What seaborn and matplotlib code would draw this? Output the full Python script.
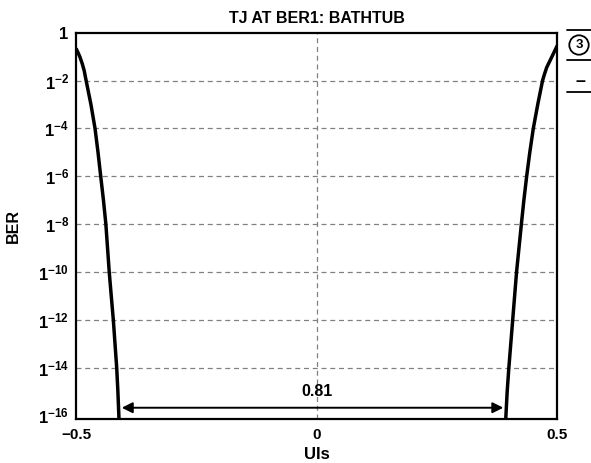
import matplotlib
matplotlib.use("Agg")
import matplotlib.pyplot as plt
import seaborn as sns
import pandas as pd
from matplotlib.lines import Line2D

# bathtub curve (UI position vs BER)
ui_left = [-0.500, -0.496, -0.4917, -0.487, -0.483, -0.479, -0.469, -0.4605, -0.4543, -0.4487,
           -0.443, -0.438, -0.4345, -0.431, -0.4268, -0.4225, -0.419, -0.4155, -0.413, -0.4107]
ber_left = [2.2e-1, 1.5e-1, 9.5e-2, 5.0e-2, 2.6e-2, 1e-2, 1e-3, 1e-4, 1e-5, 1e-6,
            1e-7, 1e-8, 1e-9, 1e-10, 1e-11, 1e-12, 1e-13, 1e-14, 1e-15, 6.9e-17]
ui_right = [0.500, 0.494, 0.488, 0.4775, 0.472, 0.469, 0.459, 0.4498, 0.4425, 0.436,
            0.4302, 0.425, 0.42, 0.415, 0.411, 0.407, 0.403, 0.399, 0.3955, 0.3925]
ber_right = [3.0e-1, 1.7e-1, 9.5e-2, 3.5e-2, 1.6e-2, 1e-2, 1e-3, 1e-4, 1e-5, 1e-6,
             1e-7, 1e-8, 1e-9, 1e-10, 1e-11, 1e-12, 1e-13, 1e-14, 1e-15, 6.9e-17]

ytick_vals = [1, 1e-2, 1e-4, 1e-6, 1e-8, 1e-10, 1e-12, 1e-14, 1e-16]
ytick_labels = [r"$\mathbf{1}$"] + [r"$\mathbf{1^{-%d}}$" % k for k in range(2, 17, 2)]
xtick_vals = [-0.5, 0, 0.5]
xtick_labels = ["\u22120.5", "0", "0.5"]
eye_left, eye_right, eye_ber = -0.405, 0.3875, 2.1e-16
eye_label = "0.81"

sns.set_style("white")
plt.rcParams["font.family"] = ["Liberation Sans", "DejaVu Sans"]
plt.rcParams["font.weight"] = "bold"
plt.rcParams["mathtext.fontset"] = "custom"
plt.rcParams["mathtext.rm"] = "Liberation Sans:bold"
plt.rcParams["mathtext.bf"] = "Liberation Sans:bold"
plt.rcParams["mathtext.it"] = "Liberation Sans:bold"
for key in ("text.color", "axes.labelcolor", "xtick.color", "ytick.color"):
    plt.rcParams[key] = "black"

df = pd.concat([
    pd.DataFrame({"ui": ui_left, "ber": ber_left, "side": "left"}),
    pd.DataFrame({"ui": ui_right, "ber": ber_right, "side": "right"}),
])

fig = plt.figure(figsize=(5.91, 4.63), dpi=100)
ax = fig.add_axes([0.1286, 0.0944, 0.8147, 0.835])

for side, sub in df.groupby("side"):
    sns.lineplot(data=sub, x="ui", y="ber", sort=False, estimator=None,
                 color="black", lw=2.5, ax=ax, legend=False,
                 solid_joinstyle="round", solid_capstyle="butt")

ax.set_yscale("log")
ax.set_xlim(-0.5, 0.5)
ax.set_ylim(6.9e-17, 1)

for v in ytick_vals[1:-1]:
    ax.axhline(v, color="#808080", lw=0.9, ls=(0, (4, 3)), zorder=0)
ax.axvline(0, color="#808080", lw=0.9, ls=(0, (4, 3)), zorder=0)

ax.set_yticks(ytick_vals)
ax.set_yticklabels(ytick_labels)
ax.yaxis.set_minor_locator(matplotlib.ticker.NullLocator())
ax.set_xticks(xtick_vals)
ax.set_xticklabels(xtick_labels)
ax.tick_params(axis="y", length=0, labelsize=12, pad=5, labelcolor="black")
ax.tick_params(axis="x", length=0, labelsize=11, pad=6, labelcolor="black")
for lab in ax.get_xticklabels():
    lab.set_fontweight("bold")

for s in ax.spines.values():
    s.set_linewidth(1.6)
    s.set_color("black")

ax.set_xlabel("UIs", fontsize=12, fontweight="bold", labelpad=4, color="black")
ax.set_ylabel("BER", fontsize=11.5, fontweight="bold", labelpad=12, color="black")
ax.set_title("TJ AT BER1: BATHTUB", fontsize=11.5, fontweight="bold", pad=7, color="black")

ax.annotate("", xy=(eye_left, eye_ber), xytext=(eye_right, eye_ber),
            arrowprops=dict(arrowstyle="<|-|>", color="black", lw=1.4,
                            mutation_scale=16, shrinkA=0, shrinkB=0))
ax.text(0, 1.0e-15, eye_label, ha="center", va="center", fontsize=11.5, fontweight="bold",
        color="black")

# clipped figure-number box on the right edge
W, H = 591, 463
for yy in (30, 60, 92):
    fig.add_artist(Line2D([567 / W, 1.0], [1 - yy / H, 1 - yy / H], color="black", lw=1.3))
fig.text(579 / W, 1 - 45 / H, "3", ha="center", va="center", fontsize=9.5, fontweight="bold",
         color="black", bbox=dict(boxstyle="circle,pad=0.28", fc="white", ec="black", lw=1.3))
fig.text(580 / W, 1 - 81 / H, "\u2013", ha="center", va="center", fontsize=13, fontweight="bold",
         color="black")

fig.savefig("out.png", dpi=100)
